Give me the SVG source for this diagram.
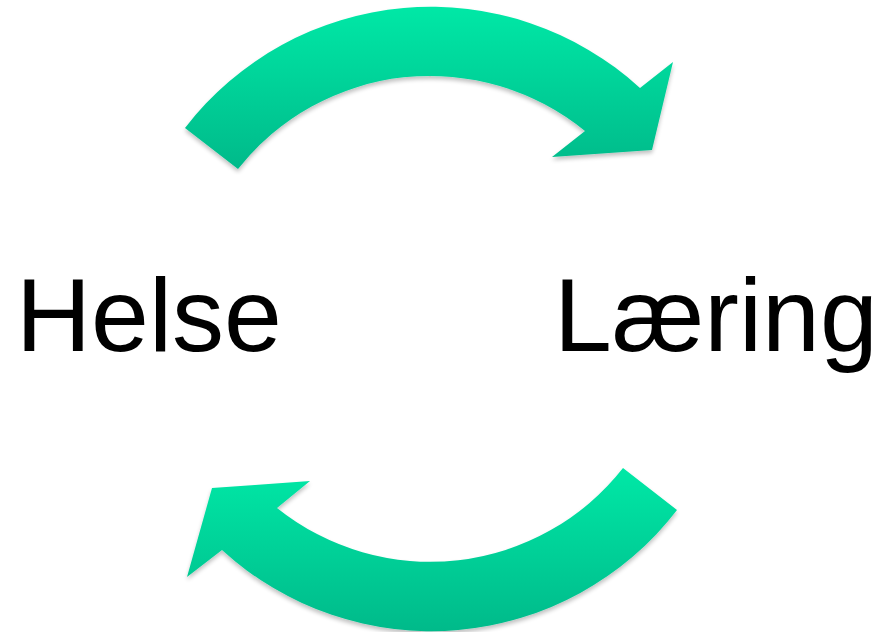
<svg xmlns="http://www.w3.org/2000/svg" width="879" height="632" viewBox="0 0 879 632">
<style>
.lbl{font-family:"Liberation Sans",Arial,sans-serif;font-size:104px;fill:#000}
.arrow{filter:url(#sh)}
</style>
<defs>
<linearGradient id="gTop" x1="0" y1="0" x2="0" y2="1">
<stop offset="0" stop-color="#02E8A6"/>
<stop offset="1" stop-color="#00BA8A"/>
</linearGradient>
<filter id="sh" x="-10%" y="-10%" width="120%" height="130%">
<feGaussianBlur in="SourceAlpha" stdDeviation="2"/>
<feOffset dx="0" dy="3" result="b"/>
<feComponentTransfer><feFuncA type="linear" slope="0.25"/></feComponentTransfer>
<feMerge><feMergeNode/><feMergeNode in="SourceGraphic"/></feMerge>
</filter>
</defs>
<rect width="879" height="632" fill="#fff"/>
<g id="connectors">
<path id="arrow-top" class="arrow" fill="url(#gTop)" d="M185,128 A310,310 0 0 1 640,88 L673,62 L652,150 L552,157 L585,131 A245,245 0 0 0 238,169 Z"/>
<path id="arrow-bottom" class="arrow" fill="url(#gTop)" d="M677,510 A310,310 0 0 1 222,550 L187,577 L212,488 L310,481 L277,508 A245,245 0 0 0 623,468 Z"/>
</g>
<g id="node-helse"><text class="lbl" x="16" y="351">Helse</text></g>
<g id="node-laering"><text class="lbl" x="554" y="351">Læring</text></g>
</svg>
